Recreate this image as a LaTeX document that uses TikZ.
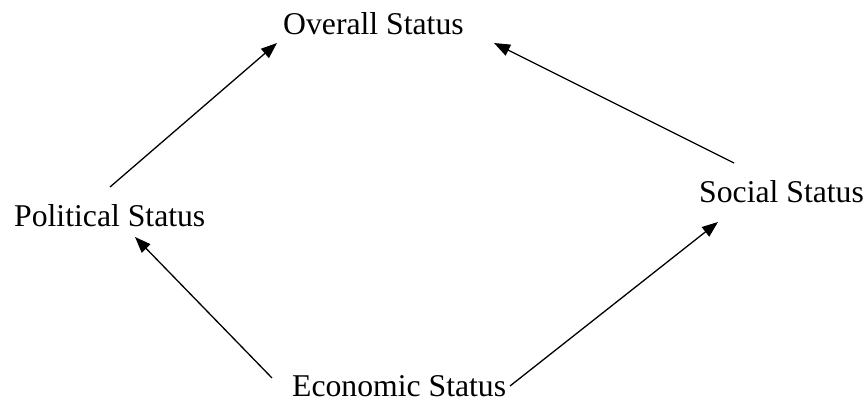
\documentclass[tikz,border=0pt]{standalone}
\usepackage{fontspec}
\setmainfont{Liberation Serif}
\usetikzlibrary{arrows.meta}
\begin{document}
\begin{tikzpicture}[x=1pt,y=1pt,
  lbl/.style={anchor=base west, inner sep=0pt, font=\fontsize{31.7}{36}\selectfont},
  arr/.style={line width=1.3pt, -{Triangle[length=16pt,width=12pt]}}]
\useasboundingbox (0,0) rectangle (868,402);
\node[lbl] (overall) at (283,367) {Overall Status};
\node[lbl] (political) at (14,175) {Political Status};
\node[lbl] (social) at (699,199) {Social Status};
\node[lbl] (economic) at (292,6) {Economic Status};
\coordinate (p1) at (110,215);
\coordinate (o1) at (277,359);
\coordinate (s1) at (734,239);
\coordinate (o2) at (494,359);
\coordinate (e1) at (272,24);
\coordinate (p2) at (135,165);
\coordinate (e2) at (510,16);
\coordinate (s2) at (718,180);
\draw[arr] (p1) -- (o1);
\draw[arr] (s1) -- (o2);
\draw[arr] (e1) -- (p2);
\draw[arr] (e2) -- (s2);
\end{tikzpicture}
\end{document}
